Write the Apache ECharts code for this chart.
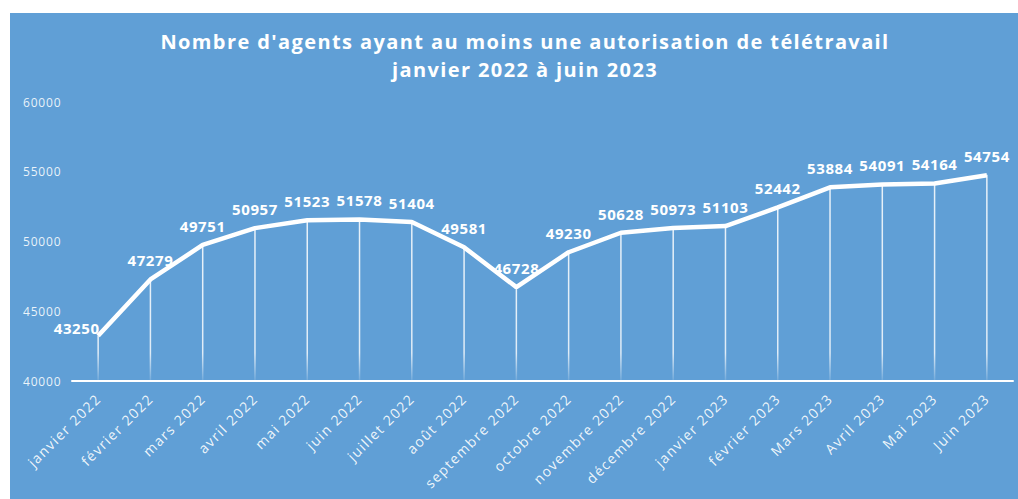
<!DOCTYPE html>
<html>
<head>
<meta charset="utf-8">
<script src="https://cdn.jsdelivr.net/npm/echarts@6/dist/echarts.min.js"></script>
<style>
html,body{margin:0;padding:0;background:#ffffff;width:1018px;height:499px;overflow:hidden;}
#chart{position:absolute;left:10px;top:13px;width:1008px;height:486px;}
#chart svg text{letter-spacing:0.8px;}
#chart svg text[style*="20px"]{letter-spacing:1.4px;}
#chart svg text[style*="15px"]{letter-spacing:0.6px;}
#chart svg text[style*="14px"]{letter-spacing:1.4px;}
</style>
</head>
<body>
<div id="chart"></div>
<script>
const titleLines = ["Nombre d'agents ayant au moins une autorisation de télétravail", "janvier 2022 à juin 2023"];
const categories = ["janvier 2022","février 2022","mars 2022","avril 2022","mai 2022","juin 2022","juillet 2022","août 2022","septembre 2022","octobre 2022","novembre 2022","décembre 2022","janvier 2023","février 2023","Mars 2023","Avril 2023","Mai 2023","Juin 2023"];
const agents = [43250,47279,49751,50957,51523,51578,51404,49581,46728,49230,50628,50973,51103,52442,53884,54091,54164,54754];
const yMin = 40000, yMax = 60000, yStep = 5000;

const BG = '#609FD6';
const chart = echarts.init(document.getElementById('chart'), null, {renderer:'svg'});

// label placement tweak for the first point (style only)
const labelTweak = {
  0: {position:'left', distance:0, offset:[2,-8]}
};
const lineData = agents.map((v,i)=> labelTweak[i] ? {value:v, label:labelTweak[i]} : {value:v});

chart.setOption({
  backgroundColor: BG,
  animation:false,
  graphic:[{
    type:'text', x:515, y:14,
    style:{text:titleLines.join('\n'), fill:'#ffffff', font:'bold 20px "Open Sans"', textAlign:'center', textVerticalAlign:'top', lineHeight:28}
  }],
  grid:{left:62, right:5, top:89, bottom:118},
  xAxis:{
    type:'category', data:categories, boundaryGap:true,
    axisLine:{lineStyle:{color:'#ffffff', width:2}},
    axisTick:{show:false},
    axisLabel:{rotate:45, color:'rgba(255,255,255,0.9)', fontFamily:'Open Sans', fontSize:14, margin:15, interval:0}
  },
  yAxis:{
    type:'value', min:yMin, max:yMax, interval:yStep,
    axisLine:{show:false}, axisTick:{show:false}, splitLine:{show:false},
    axisLabel:{color:'rgba(255,255,255,0.88)', fontFamily:'Open Sans', fontSize:12, align:'left', margin:49, formatter:function(v){return String(v);}}
  },
  series:[
    {
      type:'custom', z:1,
      renderItem:function(params, api){
        const p = api.coord([api.value(0), api.value(1)]);
        const b = api.coord([api.value(0), yMin]);
        const h = b[1]-p[1];
        const fadeStart = Math.max(0, 1 - 28/h);
        return {type:'rect', shape:{x:p[0]-0.75, y:p[1], width:1.5, height:h},
          style:{fill:new echarts.graphic.LinearGradient(0,0,0,1,[
            {offset:0,color:'rgba(255,255,255,0.85)'},
            {offset:fadeStart,color:'rgba(255,255,255,0.8)'},
            {offset:1,color:'rgba(255,255,255,0.1)'}])}};
      },
      encode:{x:0,y:1},
      data:agents.map((v,i)=>[i,v])
    },
    {
      type:'line', z:3, data:lineData, symbol:'circle', symbolSize:1, showSymbol:true,
      itemStyle:{color:'#ffffff'},
      lineStyle:{color:'#ffffff', width:4.5},
      label:{show:true, position:'top', distance:11, color:'#ffffff', fontFamily:'Open Sans', fontWeight:'bold', fontSize:15}
    }
  ]
});
</script>
</body>
</html>
